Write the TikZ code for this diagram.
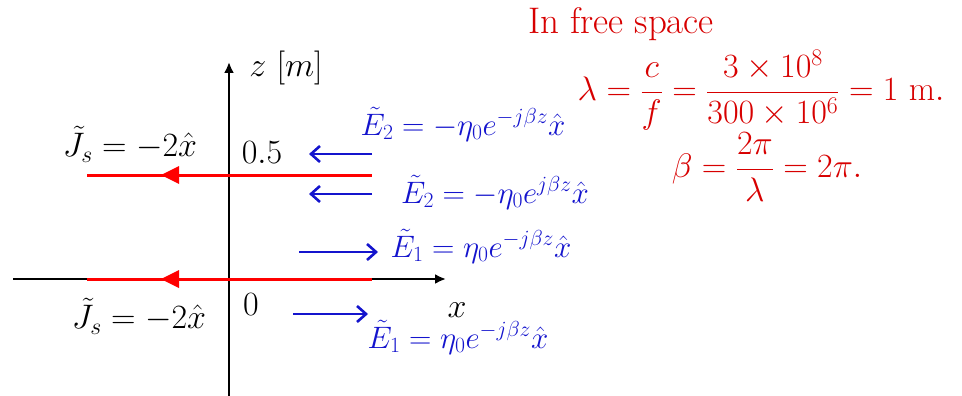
\RequirePackage{fix-cm}
\documentclass[tikz,border=0pt]{standalone}
\usetikzlibrary{arrows.meta}
\definecolor{penblue}{RGB}{20,20,205}
\definecolor{penred}{RGB}{215,0,0}
\tikzset{
  axis/.style={line width=2.4pt,black,-{Latex[length=11pt,width=10pt]}},
  sheet/.style={line width=3pt,red},
  sheettip/.style={fill=red,draw=none},
  efield/.style={line width=2.6pt,penblue,-{Straight Barb[length=9pt,width=16pt,line width=2.6pt]}},
  lbl/.style={font=\fontsize{34}{38}\selectfont,inner sep=0pt},
  bluetxt/.style={font=\fontsize{31}{36}\selectfont,text=penblue,inner sep=0pt},
  redtxt/.style={font=\fontsize{34}{38}\selectfont,text=penred,inner sep=0pt}
}
\begin{document}
\begin{tikzpicture}[x=1pt,y=-1pt]
\useasboundingbox (0,0) rectangle (962,396);
% axes
\coordinate (xl) at (13,279);
\coordinate (xr) at (446,279);
\coordinate (zb) at (229,396);
\coordinate (zt) at (229,62);
\draw[axis] (xl) -- (xr);
\draw[axis] (zb) -- (zt);
% current sheets
\coordinate (s1l) at (87,175);
\coordinate (s1r) at (372,175);
\coordinate (s0l) at (87,279);
\coordinate (s0r) at (372,279);
\draw[sheet] (s1l) -- (s1r);
\draw[sheet] (s0l) -- (s0r);
\fill[sheettip] (161,175) -- (179,166) -- (179,184) -- cycle;
\fill[sheettip] (161,279) -- (179,270) -- (179,288) -- cycle;
% labels
\node[lbl] (j1) at (130,144) {$\tilde{J}_s = -2\hat{x}$};
\node[lbl] (j0) at (139,316) {$\tilde{J}_s = -2\hat{x}$};
\node[lbl] (h05) at (262,153) {$0.5$};
\node[lbl] (h0) at (251,305) {$0$};
\node[lbl] (xlab) at (457,310) {$x$};
\node[lbl] (zlab) at (286,68) {$z\ [m]$};
% field arrows
\coordinate (a1s) at (372,154); \coordinate (a1e) at (309,154);
\coordinate (a2s) at (372,194); \coordinate (a2e) at (309,194);
\coordinate (a3s) at (299,252); \coordinate (a3e) at (378,252);
\coordinate (a4s) at (293,314); \coordinate (a4e) at (368,314);
\draw[efield] (a1s) -- (a1e);
\draw[efield] (a2s) -- (a2e);
\draw[efield] (a3s) -- (a3e);
\draw[efield] (a4s) -- (a4e);
% field expressions
\node[bluetxt] (e2u) at (463,124) {$\tilde{E}_2 = -\eta_0 e^{-j\beta z}\hat{x}$};
\node[bluetxt] (e2d) at (495,192) {$\tilde{E}_2 = -\eta_0 e^{j\beta z}\hat{x}$};
\node[bluetxt] (e1u) at (481,246) {$\tilde{E}_1 = \eta_0 e^{-j\beta z}\hat{x}$};
\node[bluetxt] (e1d) at (458,337) {$\tilde{E}_1 = \eta_0 e^{-j\beta z}\hat{x}$};
% notes
\node[redtxt,font=\fontsize{37}{40}\selectfont] (fs) at (621,24) {In free space};
\node[redtxt] (lam) at (761,90) {$\displaystyle \lambda = \frac{c}{f} = \frac{3\times 10^{8}}{300\times 10^{6}} = 1\ \mathrm{m}.$};
\node[redtxt] (bet) at (767,167) {$\displaystyle \beta = \frac{2\pi}{\lambda} = 2\pi.$};
\end{tikzpicture}
\end{document}
